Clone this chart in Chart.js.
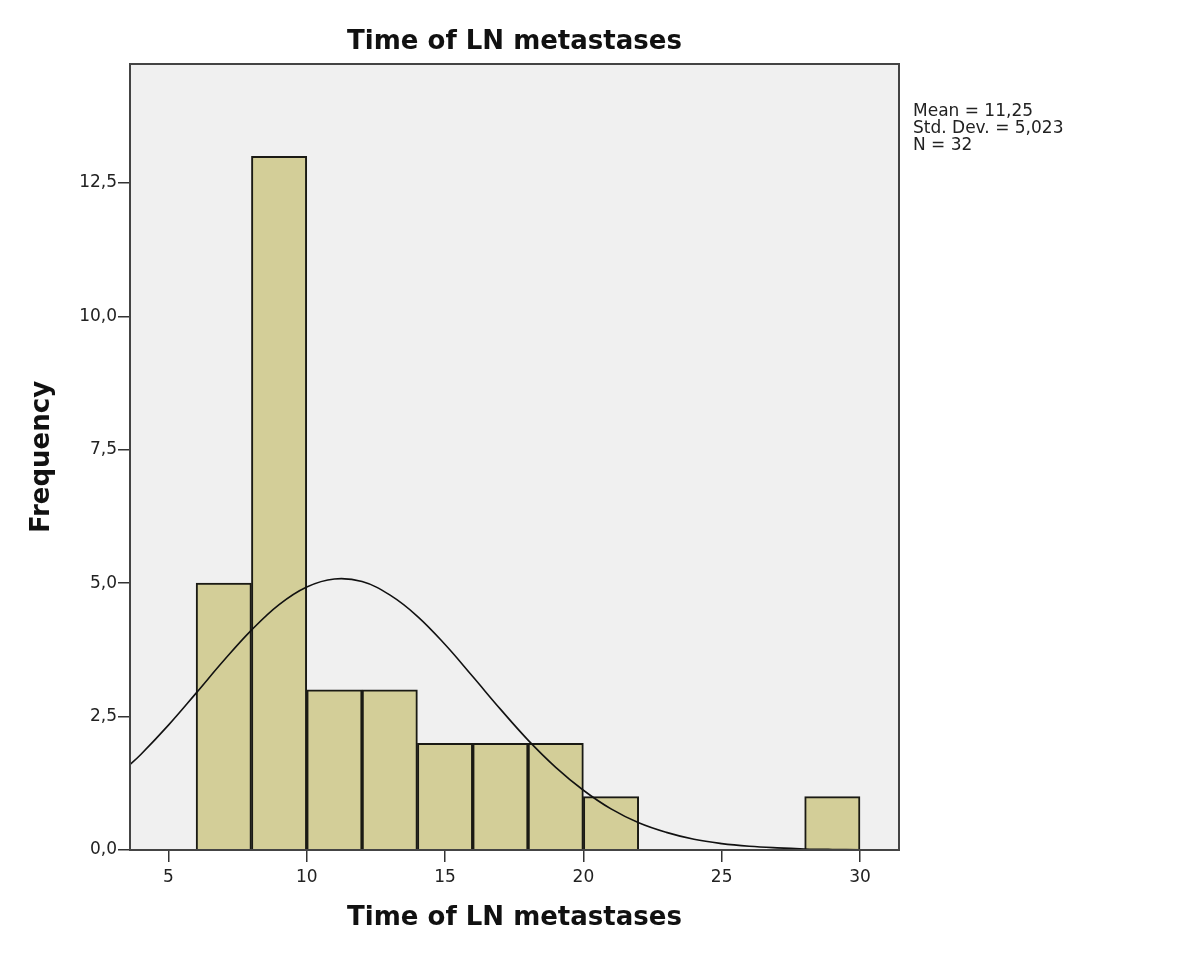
<!DOCTYPE html>
<html>
<head>
<meta charset="utf-8">
<script src="https://cdn.jsdelivr.net/npm/chart.js@4.4.1/dist/chart.umd.min.js"></script>
<style>
  html, body { margin: 0; padding: 0; background: #fff; }
  #wrap { width: 1200px; height: 960px; }
</style>
</head>
<body>
<div id="wrap"><canvas id="histChart" width="1200" height="960"></canvas></div>
<script>
// histogram bins (months), width 2
const binStarts = [6, 8, 10, 12, 14, 16, 18, 20, 28];
const binCounts = [5, 13, 3, 3, 2, 2, 2, 1, 1];
const binWidth = 2;

// fitted normal curve
const curveX = [3.5, 4, 5, 6, 7, 8, 9, 10, 11, 12, 13, 14, 15, 16, 17, 18, 19, 20, 21, 22, 23, 24, 25, 26, 27, 28, 29, 30, 31, 31.5];
const curveY = [1.55, 1.79, 2.34, 2.94, 3.55, 4.12, 4.6, 4.93, 5.08, 5.03, 4.78, 4.38, 3.85, 3.25, 2.64, 2.06, 1.55, 1.12, 0.77, 0.51, 0.33, 0.2, 0.12, 0.07, 0.04, 0.02, 0.01, 0.005, 0.002, 0.001];

const xTicks = [5, 10, 15, 20, 25, 30];
const yTicks = [0, 2.5, 5, 7.5, 10, 12.5];
const statsLines = ['Mean = 11,25', 'Std. Dev. = 5,023', 'N = 32'];

const FONT = '"DejaVu Sans", Verdana, sans-serif';
const fmt = v => v.toFixed(1).replace('.', ',');

const bars = binStarts.map((s, i) => ({ x: s + binWidth / 2, y: binCounts[i] }));
const curve = curveX.map((x, i) => ({ x: x, y: curveY[i] }));

const framePlugin = {
    id: 'frame',
    beforeDraw(chart) {
        const { ctx, chartArea: a } = chart;
        ctx.save();
        ctx.fillStyle = '#f0f0f0';
        ctx.fillRect(a.left, a.top, a.right - a.left, a.bottom - a.top);
        ctx.restore();
    },
    afterDraw(chart) {
        const { ctx, chartArea: a } = chart;
        ctx.save();
        ctx.strokeStyle = '#444';
        ctx.lineWidth = 2;
        ctx.strokeRect(a.left, a.top, a.right - a.left, a.bottom - a.top);

        ctx.fillStyle = '#111';
        ctx.textAlign = 'center';
        ctx.textBaseline = 'middle';
        ctx.font = 'bold 26px ' + FONT;
        const cx = (a.left + a.right) / 2;
        ctx.fillText('Time of LN metastases', cx, 42);
        ctx.fillText('Time of LN metastases', cx, 918);

        ctx.save();
        ctx.translate(42, 457);
        ctx.rotate(-Math.PI / 2);
        ctx.fillText('Frequency', 0, 0);
        ctx.restore();

        ctx.font = '17px ' + FONT;
        ctx.textAlign = 'left';
        ctx.textBaseline = 'top';
        ctx.fillStyle = '#222';
        statsLines.forEach((t, i) => ctx.fillText(t, 913, 103 + i * 17));
        ctx.restore();
    }
};

const ctx = document.getElementById('histChart').getContext('2d');
new Chart(ctx, {
    data: {
        datasets: [{
            type: 'line',
            data: curve,
            borderColor: '#111',
            borderWidth: 1.6,
            pointRadius: 0,
            tension: 0.4,
            fill: false,
            order: 0
        }, {
            type: 'bar',
            data: bars,
            backgroundColor: '#d3ce98',
            borderColor: '#1a1a14',
            borderWidth: 2,
            barPercentage: 1,
            categoryPercentage: 1,
            order: 1
        }]
    },
    options: {
        responsive: false,
        animation: false,
        layout: { padding: { left: 0, right: 301, top: 64, bottom: 0 } },
        plugins: { legend: { display: false }, tooltip: { enabled: false }, title: { display: false } },
        scales: {
            x: {
                type: 'linear',
                offset: false,
                min: 3.61,
                max: 31.41,
                afterBuildTicks: s => { s.ticks = xTicks.map(v => ({ value: v })); },
                afterFit: s => { s.height = 110; },
                ticks: { font: { family: FONT, size: 17 }, color: '#222', padding: 5, maxRotation: 0 },
                grid: { offset: false, drawOnChartArea: false, drawTicks: true, tickLength: 12, color: '#333', lineWidth: 1.5 },
                border: { display: true, color: '#444', width: 2 }
            },
            y: {
                type: 'linear',
                min: 0,
                max: 14.73,
                afterBuildTicks: s => { s.ticks = yTicks.map(v => ({ value: v })); },
                afterFit: s => { s.width = 130; },
                ticks: { font: { family: FONT, size: 17 }, color: '#222', padding: 1, callback: v => fmt(v) },
                grid: { drawOnChartArea: false, drawTicks: true, tickLength: 12, color: '#333', lineWidth: 1.5 },
                border: { display: true, color: '#444', width: 2 }
            }
        }
    },
    plugins: [framePlugin]
});
</script>
</body>
</html>
